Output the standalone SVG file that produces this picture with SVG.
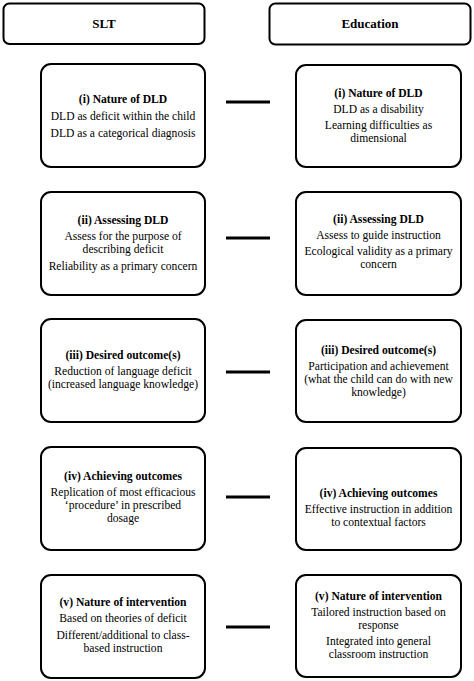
<svg xmlns="http://www.w3.org/2000/svg" width="474" height="681" viewBox="0 0 474 681">
<style>
.box{fill:#fff;stroke:#000;stroke-width:2}
text{font-size:11.6px;fill:#000;text-anchor:middle}
.t{font-weight:bold}
.h{font-weight:bold;font-size:13px}
.conn{stroke:#000;stroke-width:3}
</style>
<rect width="474" height="681" fill="#fff"/>
<g font-family="'Liberation Serif', 'Times New Roman', 'DejaVu Serif', serif">
<g id="hdr-slt"><rect class="box" x="3.5" y="3.5" width="201" height="40.5" rx="6"/><text class="h" x="104" y="28">SLT</text></g>
<g id="hdr-edu"><rect class="box" x="269.5" y="3.5" width="201" height="41" rx="6"/><text class="h" x="370" y="28">Education</text></g>

<g id="slt1"><rect class="box" x="41" y="64" width="164" height="103" rx="10"/>
<text class="t" x="123" y="103">(i) Nature of DLD</text>
<text x="123" y="120">DLD as deficit within  the child</text>
<text x="123" y="137">DLD as a categorical diagnosis</text></g>
<g id="edu1"><rect class="box" x="296" y="65" width="165" height="102" rx="10"/>
<text class="t" x="378.5" y="97">(i) Nature of DLD</text>
<text x="378.5" y="113">DLD as a disability</text>
<text x="378.5" y="129">Learning difficulties as</text>
<text x="378.5" y="142">dimensional</text></g>

<g id="slt2"><rect class="box" x="41" y="192" width="164" height="103" rx="10"/>
<text class="t" x="123" y="224">(ii) Assessing DLD</text>
<text x="123" y="240">Assess for the purpose of</text>
<text x="123" y="253">describing deficit</text>
<text x="123" y="270">Reliability as a primary concern</text></g>
<g id="edu2"><rect class="box" x="296" y="192" width="165" height="103" rx="10"/>
<text class="t" x="378.5" y="223">(ii) Assessing DLD</text>
<text x="378.5" y="239">Assess to guide instruction</text>
<text x="378.5" y="255">Ecological validity as a primary</text>
<text x="378.5" y="268">concern</text></g>

<g id="slt3"><rect class="box" x="41" y="319" width="164" height="103" rx="10"/>
<text class="t" x="123" y="359">(iii) Desired outcome(s)</text>
<text x="123" y="375">Reduction of language deficit</text>
<text x="123" y="388">(increased language knowledge)</text></g>
<g id="edu3"><rect class="box" x="296" y="320" width="165" height="102" rx="10"/>
<text class="t" x="378.5" y="354">(iii) Desired outcome(s)</text>
<text x="378.5" y="370">Participation and achievement</text>
<text x="378.5" y="383">(what the child can do with new</text>
<text x="378.5" y="396">knowledge)</text></g>

<g id="slt4"><rect class="box" x="41" y="447" width="164" height="103" rx="10"/>
<text class="t" x="123" y="480">(iv) Achieving outcomes</text>
<text x="123" y="496">Replication of most efficacious</text>
<text x="123" y="509">‘procedure’ in prescribed</text>
<text x="123" y="522">dosage</text></g>
<g id="edu4"><rect class="box" x="296" y="448" width="165" height="102" rx="10"/>
<text class="t" x="378.5" y="497">(iv) Achieving outcomes</text>
<text x="378.5" y="513">Effective instruction in addition</text>
<text x="378.5" y="526">to contextual factors</text></g>

<g id="slt5"><rect class="box" x="41" y="575" width="164" height="103" rx="10"/>
<text class="t" x="123" y="606">(v) Nature of intervention</text>
<text x="123" y="622">Based on theories of deficit</text>
<text x="123" y="639">Different/additional to class-</text>
<text x="123" y="652">based instruction</text></g>
<g id="edu5"><rect class="box" x="296" y="575" width="165" height="102" rx="10"/>
<text class="t" x="378.5" y="600">(v) Nature of intervention</text>
<text x="378.5" y="616">Tailored instruction based on</text>
<text x="378.5" y="629">response</text>
<text x="378.5" y="645">Integrated  into general</text>
<text x="378.5" y="658">classroom instruction</text></g>
</g>
<g id="connectors">
<line class="conn" x1="226" y1="102" x2="270" y2="102"/>
<line class="conn" x1="226" y1="238" x2="270" y2="238"/>
<line class="conn" x1="226" y1="372" x2="270" y2="372"/>
<line class="conn" x1="226" y1="497" x2="270" y2="497"/>
<line class="conn" x1="226" y1="627" x2="270" y2="627"/>
</g>
</svg>
